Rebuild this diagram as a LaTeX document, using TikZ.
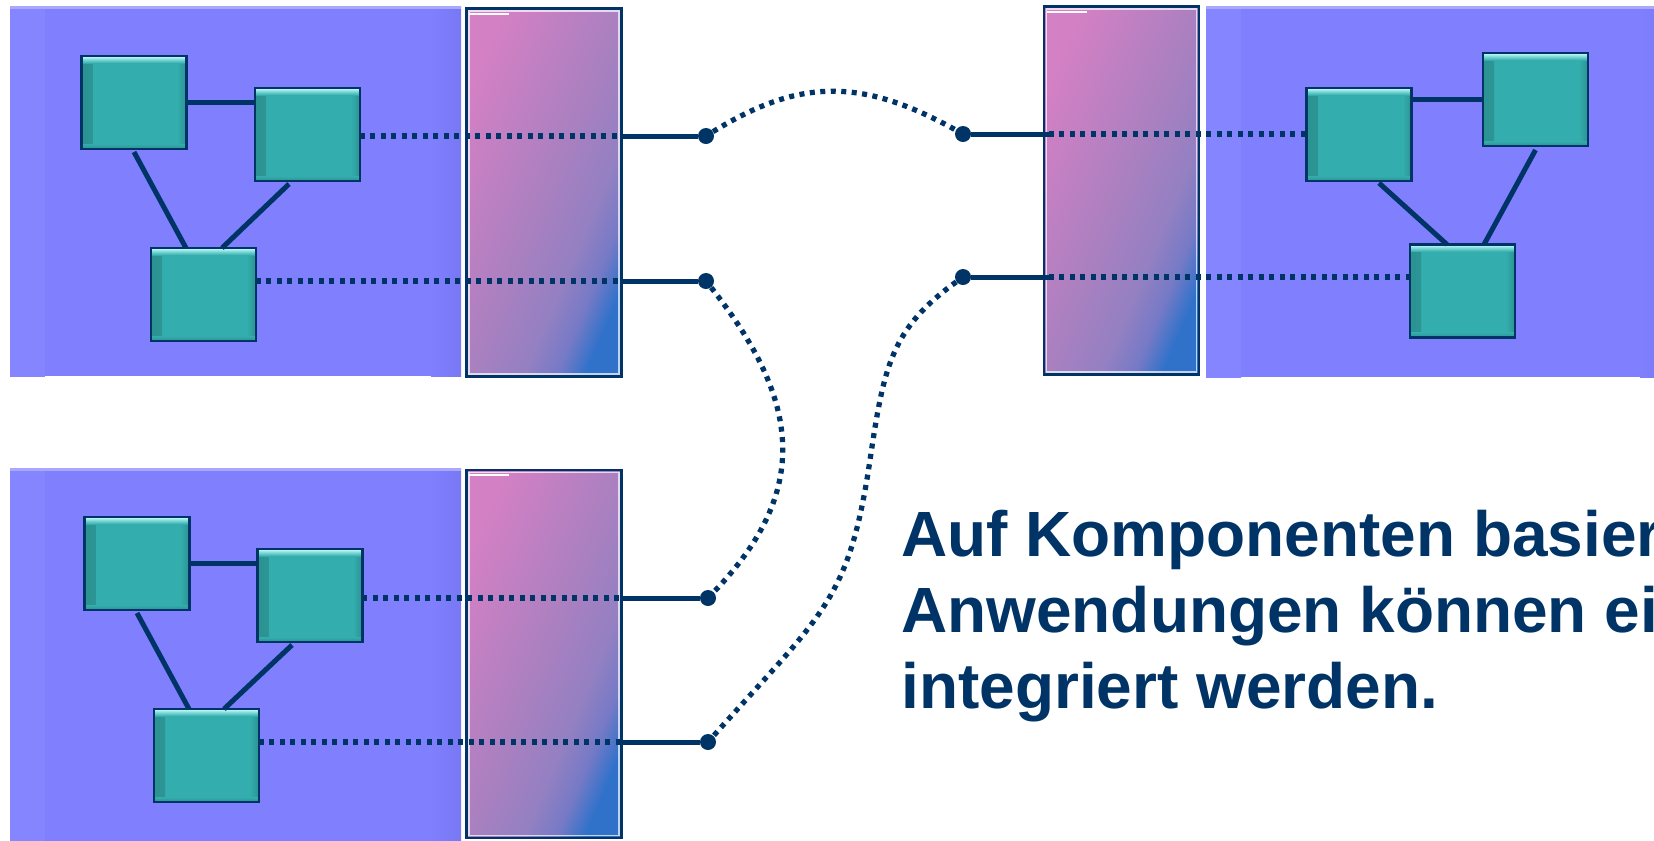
\documentclass[tikz,border=0pt]{standalone}
\usepackage{fontspec}
\newfontfamily\arialfont{Liberation Sans}
\usetikzlibrary{positioning}

\definecolor{navy}{RGB}{0,51,102}
\definecolor{panelblue}{RGB}{128,128,255}
\definecolor{panellight}{RGB}{133,133,255}
\definecolor{paneldark}{RGB}{120,120,244}
\definecolor{panelrim}{RGB}{168,168,255}
\definecolor{compteal}{RGB}{51,173,173}
\definecolor{compdark}{RGB}{44,146,146}
\definecolor{complight}{RGB}{200,255,255}
\definecolor{barpink}{RGB}{212,128,196}
\definecolor{barmid}{RGB}{170,128,192}
\definecolor{barpurple}{RGB}{148,128,194}
\definecolor{barviolet}{RGB}{118,122,198}
\definecolor{barblue}{RGB}{48,114,202}

\pgfdeclarehorizontalshading{barshade}{100bp}{color(0bp)=(barpink); color(25bp)=(barpink); color(50bp)=(barmid); color(62bp)=(barpurple); color(69bp)=(barviolet); color(75bp)=(barblue); color(100bp)=(barblue)}

\tikzset{
    panel/.style={fill=panelblue,
        path picture={
            \fill[left color=panellight, right color=panelblue] (path picture bounding box.south west) rectangle ([xshift=0.7cm]path picture bounding box.north west);
            \fill[left color=panelblue, right color=paneldark] ([xshift=-0.6cm]path picture bounding box.south east) rectangle (path picture bounding box.north east);
            \fill[panelrim] (path picture bounding box.north west) rectangle ([yshift=-0.06cm]path picture bounding box.north east);
        }},
    bar/.style={draw=navy, line width=0.05cm, shade, shading=barshade, shading angle=-23,
        minimum width=3.11cm, minimum height=7.37cm, inner sep=0pt, outer sep=0pt,
        path picture={
            \draw[white, opacity=0.7, line width=0.03cm] ([shift={(0.05cm,0.05cm)}]path picture bounding box.south west) rectangle ([shift={(-0.05cm,-0.05cm)}]path picture bounding box.north east);
            \fill[white] ([shift={(0.06cm,-0.09cm)}]path picture bounding box.north west) rectangle ++(0.8cm,-0.04cm);
        }},
    comp/.style={draw=navy, line width=0.05cm, fill=compteal,
        minimum width=2.1cm, minimum height=1.86cm, inner sep=0pt, outer sep=0pt,
        path picture={
            \fill[left color=compdark, right color=compteal] (path picture bounding box.south west) rectangle ([xshift=0.22cm]path picture bounding box.north west);
            \fill[left color=compteal, right color=compdark] ([xshift=-0.18cm]path picture bounding box.south east) rectangle (path picture bounding box.north east);
            \fill[top color=compteal, bottom color=compdark] ([yshift=0.1cm]path picture bounding box.south west) rectangle (path picture bounding box.south east);
            \fill[top color=complight, bottom color=compteal] (path picture bounding box.north west) rectangle ([yshift=-0.14cm]path picture bounding box.north east);
        }},
    wire/.style={navy, line width=0.1cm},
    dotwire/.style={navy, line width=0.105cm, dash pattern=on 0.1cm off 0.11cm},
    pin/.style={circle, fill=navy, minimum size=0.32cm, inner sep=0pt},
    caption/.style={navy, anchor=base west, inner sep=0pt, font=\arialfont\bfseries\fontsize{36.4}{43.6}\selectfont},
}

\begin{document}
\begin{tikzpicture}[x=0.02cm, y=-0.02cm]
    \useasboundingbox (0,0) rectangle (1654,840);
    \clip (0,0) rectangle (1654,840);

    % application panels
    \path[panel] (10,6) rectangle (461,376);
    \path[panel] (1206,6) rectangle (1670,377);
    \path[panel] (10,468) rectangle (461,850);

    % interface bars
    \node[bar] (barA) at (544,192.5) {};
    \node[bar] (barB) at (1121.5,190.5) {};
    \node[bar] (barC) at (544,654) {};

    % components
    \node[comp] (A) at (134,102.5) {};
    \node[comp] (B) at (307.5,134.5) {};
    \node[comp] (C) at (203.5,294.5) {};
    \node[comp] (D) at (1359,134.5) {};
    \node[comp] (E) at (1535.5,99.5) {};
    \node[comp] (F) at (1462.5,291) {};
    \node[comp] (G) at (137,563.5) {};
    \node[comp] (H) at (310,595.5) {};
    \node[comp] (I) at (206.5,755.5) {};

    % connection points
    \node[pin] (p1) at (706,136) {};
    \node[pin] (p2) at (706,281) {};
    \node[pin] (q1) at (963,134) {};
    \node[pin] (q2) at (963,277) {};
    \node[pin] (r1) at (708,598) {};
    \node[pin] (r2) at (708,742) {};

    % links inside the applications
    \draw[wire] (A.east) -- (A.east -| B.west);
    \draw[wire] ([yshift=-0.06cm]A.south) -- ([xshift=-0.35cm]C.north);
    \draw[wire] ([xshift=-0.37cm, yshift=-0.06cm]B.south) -- ([xshift=0.37cm]C.north);
    \draw[wire] (E.west) -- (E.west -| D.east);
    \draw[wire] ([xshift=0.4cm, yshift=-0.04cm]D.south) -- ([xshift=-0.31cm]F.north);
    \draw[wire] ([yshift=-0.08cm]E.south) -- ([xshift=0.43cm]F.north);
    \draw[wire] (G.east) -- (G.east -| H.west);
    \draw[wire] ([yshift=-0.06cm]G.south) -- ([xshift=-0.35cm]I.north);
    \draw[wire] ([xshift=-0.36cm, yshift=-0.06cm]H.south) -- ([xshift=0.35cm]I.north);

    % through the interfaces
    \draw[dotwire] (p1 -| B.east) -- (p1 -| barA.east);
    \draw[wire] (p1 -| barA.east) -- (p1);
    \draw[dotwire] (p2 -| C.east) -- (p2 -| barA.east);
    \draw[wire] (p2 -| barA.east) -- (p2);
    \draw[dotwire] ([xshift=0.1cm]q1 -| barB.west) -- (q1 -| D.west);
    \draw[wire] (q1) -- ([xshift=0.1cm]q1 -| barB.west);
    \draw[dotwire] ([xshift=0.1cm]q2 -| barB.west) -- (q2 -| F.west);
    \draw[wire] (q2) -- ([xshift=0.1cm]q2 -| barB.west);
    \draw[dotwire] (r1 -| H.east) -- (r1 -| barC.east);
    \draw[wire] (r1 -| barC.east) -- (r1);
    \draw[dotwire] (r2 -| I.east) -- (r2 -| barC.east);
    \draw[wire] (r2 -| barC.east) -- (r2);

    % loose couplings
    \draw[dotwire] (p1) .. controls (800,78) and (862,78) .. (q1);
    \draw[dotwire] (p2) .. controls (800,400) and (812,490) .. (r1);
    \draw[dotwire] (q2) .. controls (891,329) and (884,366) .. (870,460)
        .. controls (849,601) and (823,613) .. (r2);

    \node[caption] (t1) at (901,556) {Auf Komponenten basier};
    \node[caption] (t2) at (901,632) {Anwendungen können ei};
    \node[caption] (t3) at (901,708) {integriert werden.};
\end{tikzpicture}
\end{document}
